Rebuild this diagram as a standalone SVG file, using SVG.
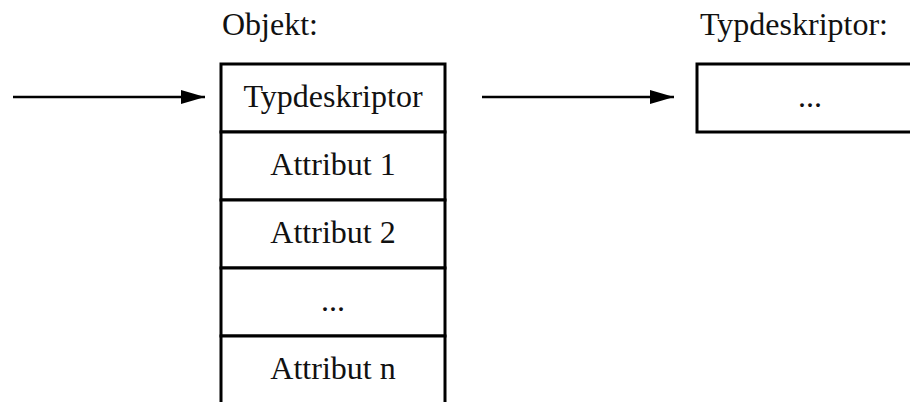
<svg xmlns="http://www.w3.org/2000/svg" width="910" height="402" viewBox="0 0 910 402">
  <style>
    .box { fill: #fff; stroke: #000; stroke-width: 3; }
    .lbl { font-family: "Liberation Serif", "Times New Roman", serif; font-size: 32px; fill: #111; }
    .mid { text-anchor: middle; }
    .wire { stroke: #000; stroke-width: 2.5; fill: none; }
  </style>
  <defs>
    <marker id="head" markerUnits="userSpaceOnUse" markerWidth="26" markerHeight="16" refX="24" refY="7" orient="auto">
      <path d="M0,0 L24,7 L0,14 Z" fill="#000"/>
    </marker>
  </defs>

  <text class="lbl" x="222" y="35">Objekt:</text>
  <text class="lbl" x="700" y="35">Typdeskriptor:</text>

  <!-- object record, one cell per field -->
  <g id="obj-typdeskriptor">
    <rect class="box" x="221" y="64" width="224" height="68"/>
    <text class="lbl mid" x="333" y="107">Typdeskriptor</text>
  </g>
  <g id="obj-attribut1">
    <rect class="box" x="221" y="132" width="224" height="68"/>
    <text class="lbl mid" x="333" y="175">Attribut 1</text>
  </g>
  <g id="obj-attribut2">
    <rect class="box" x="221" y="200" width="224" height="68"/>
    <text class="lbl mid" x="333" y="243">Attribut 2</text>
  </g>
  <g id="obj-dots">
    <rect class="box" x="221" y="268" width="224" height="68"/>
    <text class="lbl mid" x="333" y="311">...</text>
  </g>
  <g id="obj-attributn">
    <rect class="box" x="221" y="336" width="224" height="80"/>
    <text class="lbl mid" x="333" y="379">Attribut n</text>
  </g>

  <!-- type descriptor -->
  <g id="typdeskriptor">
    <rect class="box" x="697" y="64" width="226" height="68"/>
    <text class="lbl mid" x="810" y="107">...</text>
  </g>

  <g id="connectors">
    <line class="wire" x1="13" y1="97" x2="205" y2="97" marker-end="url(#head)"/>
    <line class="wire" x1="482" y1="97" x2="674" y2="97" marker-end="url(#head)"/>
  </g>
</svg>
